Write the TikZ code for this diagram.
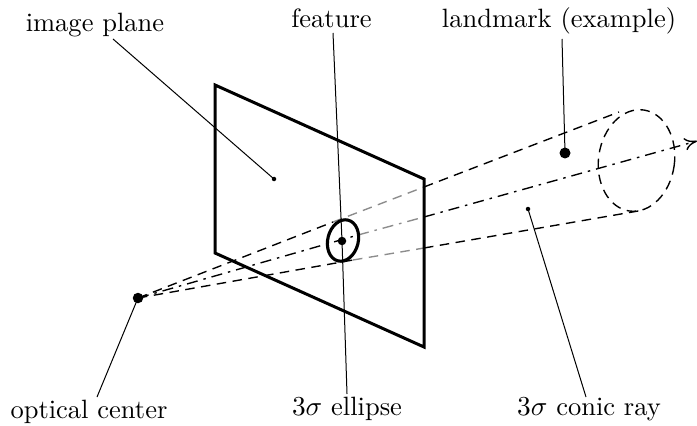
\documentclass[tikz,border=0pt]{standalone}
\usetikzlibrary{arrows.meta,calc}
\tikzset{
  x=0.4pt,y=-0.4pt,
  dot/.style={circle,fill=black,inner sep=0pt,minimum size=#1},
  lab/.style={inner sep=0pt,anchor=base,font=\fontsize{10.6pt}{12.7pt}\selectfont},
  lead/.style={line width=0.4pt},
  bold/.style={line width=1.2pt,line join=miter},
  ray/.style={line width=0.55pt,dash pattern=on 3.8pt off 2.6pt},
  axisray/.style={line width=0.55pt,dash pattern=on 4.4pt off 2.4pt on 1pt off 2.4pt},
  grayray/.style={ray,black!45},
  grayaxis/.style={axisray,black!45},
}
\begin{document}
\begin{tikzpicture}
\useasboundingbox (0,0) rectangle (697,425);
% named points
\coordinate (oc) at (138,298);
\coordinate (pa) at (215,85);
\coordinate (pb) at (424,179);
\coordinate (pc) at (424,347);
\coordinate (pd) at (215,253);
\coordinate (ue) at (333,222);
\coordinate (up) at (424,187);
\coordinate (uf) at (619,112);
\coordinate (le) at (353,260);
\coordinate (lp) at (424,248);
\coordinate (lf) at (644,210);
\coordinate (ce) at (358,235);
\coordinate (cp) at (424,217);
\coordinate (af) at (697,141);
% rays
\draw[ray] (oc) -- (ue);
\draw[grayray] (ue) -- (up);
\draw[ray] (up) -- (uf);
\draw[ray] (oc) -- (le);
\draw[grayray] (le) -- (lp);
\draw[ray] (lp) -- (lf);
\draw[axisray] (oc) -- (ce);
\draw[grayaxis] (ce) -- (cp);
\draw[axisray,-{To[length=5pt,width=5pt]}] (cp) -- (af);
% cone end
\draw[ray,rotate around={-8:(636.5,160.5)}] (636.5,160.5) ellipse [x radius=15.2pt, y radius=20.4pt];
% plane
\draw[bold] (pa) -- (pb) -- (pc) -- (pd) -- cycle;
\draw[line width=1.25pt,rotate around={-14:(343,240.5)}] (343,240.5) ellipse [x radius=6.1pt, y radius=8.4pt];
% dots
\node[dot=4.2pt] (ocd) at (oc) {};
\node[dot=3.4pt] (fd) at (342,241) {};
\node[dot=4.4pt] (lm) at (565,153) {};
\node[dot=1.8pt] (ip) at (274,179) {};
\node[dot=1.8pt] (cr) at (528,209) {};
% labels
\node[lab] (t1) at (95,32) {image plane};
\node[lab] (t2) at (331.5,28) {feature};
\node[lab] (t3) at (559,28) {landmark (example)};
\node[lab] (t4) at (89,418) {optical center};
\node[lab] (t5) at (347,415) {$3\sigma$ ellipse};
\node[lab] (t6) at (589,415) {$3\sigma$ conic ray};
\coordinate (l1) at (113,39);
\coordinate (l2) at (333,33);
\coordinate (l3) at (562,39);
\coordinate (l4) at (97,397);
\coordinate (l5) at (347,394);
\coordinate (l6) at (586,397);
% leaders
\draw[lead] (l1) -- (ip.center);
\draw[lead] (l2) -- (fd.center);
\draw[lead] (l3) -- (lm.center);
\draw[lead] (l4) -- (ocd.center);
\draw[lead] (l5) -- (fd.center);
\draw[lead] (l6) -- (cr.center);
\end{tikzpicture}
\end{document}
